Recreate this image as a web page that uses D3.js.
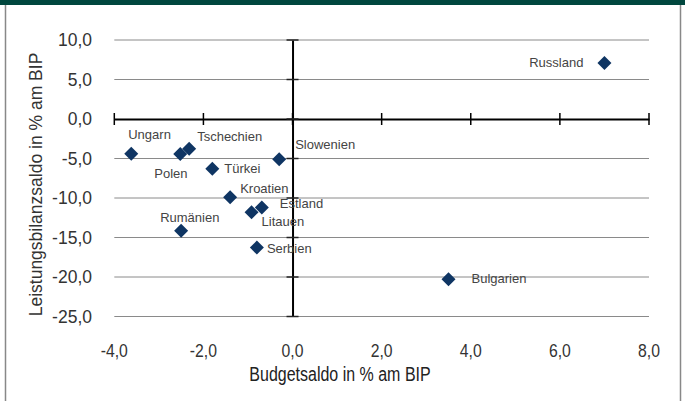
<!DOCTYPE html>
<html>
<head>
<meta charset="utf-8">
<script src="https://cdn.jsdelivr.net/npm/d3@7"></script>
<style>
  body { margin: 0; background: #fff; }
  svg { display: block; }
</style>
</head>
<body>
<svg width="685" height="401"></svg>
<script>
// data
const countries = ["Russland", "Ungarn", "Polen", "Tschechien", "Türkei", "Slowenien",
  "Kroatien", "Estland", "Litauen", "Rumänien", "Serbien", "Bulgarien"];
const budget = [7.0, -3.62, -2.52, -2.32, -1.8, -0.3, -1.4, -0.69, -0.92, -2.5, -0.8, 3.5];
const current = [7.1, -4.4, -4.43, -3.77, -6.3, -5.08, -9.89, -11.2, -11.8, -14.15, -16.27, -20.27];
const xTicks = [-4, -2, 0, 2, 4, 6, 8];
const yTicks = [10, 5, 0, -5, -10, -15, -20, -25];

// label placement relative to marker (layout only)
const labelPos = {
  "Russland": [-21, 4, "end"], "Ungarn": [-3, -15, "start"], "Polen": [-26, 24, "start"],
  "Tschechien": [8, -8, "start"], "Türkei": [12, 4, "start"], "Slowenien": [16, -10, "start"],
  "Kroatien": [10, -4, "start"], "Estland": [18, 1, "start"], "Litauen": [10, 14, "start"],
  "Rumänien": [-21, -9, "start"], "Serbien": [10, 5, "start"], "Bulgarien": [23, 4, "start"]
};

const svg = d3.select("svg");
const fmt = v => d3.format(".1f")(v).replace(".", ",").replace("−", "-");
const narrow = 0.82; // condensed look for the x axis texts

// frame
svg.append("rect").attr("x", 0).attr("y", 0).attr("width", 685).attr("height", 5).attr("fill", "#00473e");
svg.append("line").attr("x1", 5.5).attr("x2", 5.5).attr("y1", 5).attr("y2", 401).attr("stroke", "#888").attr("stroke-width", 1.5);
svg.append("line").attr("x1", 680.5).attr("x2", 680.5).attr("y1", 5).attr("y2", 401).attr("stroke", "#888").attr("stroke-width", 1.5);

const x = d3.scaleLinear().domain([-4, 8]).range([114.3, 649]);
const y = d3.scaleLinear().domain([10, -25]).range([40, 316.5]);

// horizontal grid
svg.append("g").selectAll("line").data(yTicks.filter(d => d !== 0)).join("line")
  .attr("x1", x(-4)).attr("x2", x(8))
  .attr("y1", d => y(d)).attr("y2", d => y(d))
  .attr("stroke", "#8a8a8a").attr("stroke-width", 1);

// zero line (x axis) with ticks
const xAxis = svg.append("g").attr("transform", `translate(0,${y(0)})`)
  .call(d3.axisBottom(x).tickValues(xTicks).tickSize(0).tickFormat(""));
xAxis.select(".domain").attr("stroke", "#000").attr("stroke-width", 2);
svg.append("g").selectAll("line").data(xTicks).join("line")
  .attr("x1", d => x(d)).attr("x2", d => x(d))
  .attr("y1", y(0) - 6).attr("y2", y(0) + 6)
  .attr("stroke", "#000").attr("stroke-width", 1.5);

// vertical zero axis with ticks
const yAxis = svg.append("g").attr("transform", `translate(${x(0)},0)`)
  .call(d3.axisLeft(y).tickValues(yTicks).tickSize(0).tickFormat(""));
yAxis.select(".domain").attr("stroke", "#000").attr("stroke-width", 2);
svg.append("g").selectAll("line").data(yTicks).join("line")
  .attr("x1", x(0) - 6).attr("x2", x(0) + 6)
  .attr("y1", d => y(d)).attr("y2", d => y(d))
  .attr("stroke", "#222").attr("stroke-width", 1.5);

// tick labels
svg.append("g").selectAll("text").data(yTicks).join("text")
  .attr("x", 92).attr("y", d => y(d) + 6)
  .attr("text-anchor", "end")
  .attr("font-family", "Liberation Sans, Arial, sans-serif")
  .style("font-size", "17.5px").attr("fill", "#333")
  .text(fmt);

svg.append("g").selectAll("text").data(xTicks).join("text")
  .attr("transform", d => `translate(${x(d)},357) scale(0.9,1)`)
  .attr("text-anchor", "middle")
  .attr("font-family", "Liberation Sans, Arial, sans-serif")
  .style("font-size", "17.5px").attr("fill", "#333")
  .text(fmt);

// axis titles
svg.append("text")
  .attr("transform", `translate(340,381) scale(${narrow},1)`)
  .attr("text-anchor", "middle")
  .attr("font-family", "Liberation Sans, Arial, sans-serif")
  .style("font-size", "19.5px").attr("fill", "#222")
  .text("Budgetsaldo in % am BIP");

svg.append("text")
  .attr("transform", "translate(42,184.5) rotate(-90)")
  .attr("text-anchor", "middle")
  .attr("font-family", "Liberation Sans, Arial, sans-serif")
  .style("font-size", "17.5px").attr("fill", "#333")
  .text("Leistungsbilanzsaldo in % am BIP");

// points
const pts = countries.map((c, i) => ({ name: c, bx: budget[i], cy: current[i] }));
const r = 7;
svg.append("g").selectAll("path").data(pts).join("path")
  .attr("d", d => {
    const px = x(d.bx), py = y(d.cy);
    return `M${px},${py - r}L${px + r},${py}L${px},${py + r}L${px - r},${py}Z`;
  })
  .attr("fill", "#0f3563");

svg.append("g").selectAll("text").data(pts).join("text")
  .attr("x", d => x(d.bx) + labelPos[d.name][0])
  .attr("y", d => y(d.cy) + labelPos[d.name][1])
  .attr("text-anchor", d => labelPos[d.name][2])
  .attr("font-family", "Liberation Sans, Arial, sans-serif")
  .style("font-size", "13px").attr("fill", "#444")
  .text(d => d.name);
</script>
</body>
</html>
